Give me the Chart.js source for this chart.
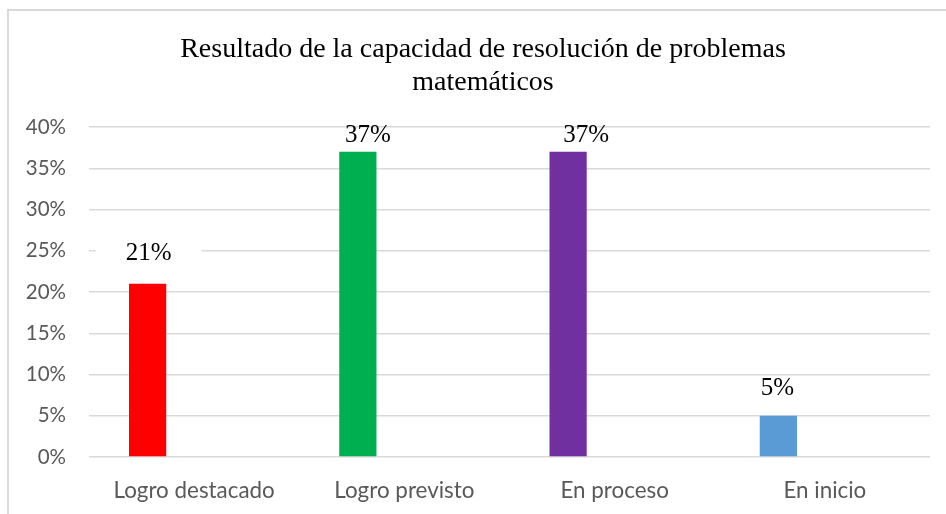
<!DOCTYPE html>
<html>
<head>
<meta charset="utf-8">
<script src="https://cdn.jsdelivr.net/npm/chart.js@4.4.0/dist/chart.umd.min.js"></script>
<style>
    html, body { margin: 0; padding: 0; background: #fff; }
    #wrap { width: 946px; height: 514px; }
</style>
</head>
<body>
<div id="wrap"><canvas id="resultado-chart" width="946" height="514"></canvas></div>
<script>
const categories = ['Logro destacado', 'Logro previsto', 'En proceso', 'En inicio'];
const values = [0.21, 0.37, 0.37, 0.05];
const spacer = [null, null, null, null];
const barColors = ['#FF0000', '#00B050', '#7030A0', '#5B9BD5'];
const titleLines = ['Resultado de la capacidad de resolución de problemas', 'matemáticos'];

// labels were nudged by hand in the original, keep the same look
const labelNudge = { dx: [1, 10, 18, -1], gap: [24, 10, 10, 21] };

const frame = {
    id: 'frame',
    beforeDraw(chart) {
        const ctx = chart.ctx;
        ctx.save();
        ctx.fillStyle = '#fff';
        ctx.fillRect(0, 0, chart.width, chart.height);
        ctx.strokeStyle = '#d9d9d9';
        ctx.lineWidth = 2;
        ctx.beginPath();
        ctx.moveTo(8, chart.height);
        ctx.lineTo(8, 10);
        ctx.lineTo(chart.width, 10);
        ctx.stroke();
        ctx.restore();
    },
    afterDraw(chart) {
        // title drawn by hand so it can sit off-centre like the original
        const ctx = chart.ctx;
        ctx.save();
        ctx.font = '28px "Liberation Serif"';
        ctx.fillStyle = '#000';
        ctx.textAlign = 'center';
        ctx.textBaseline = 'alphabetic';
        ctx.fillText(titleLines[0], 483, 57);
        ctx.fillText(titleLines[1], 483, 89.5);
        ctx.restore();
    }
};

const barLabels = {
    id: 'barLabels',
    afterDatasetsDraw(chart, args, opts) {
        const ctx = chart.ctx;
        const area = chart.chartArea;
        const meta = chart.getDatasetMeta(0);
        ctx.save();
        ctx.font = '25px "Liberation Serif"';
        ctx.textAlign = 'center';
        ctx.textBaseline = 'alphabetic';
        meta.data.forEach((bar, i) => {
            const txt = Math.round(values[i] * 100) + '%';
            const x = bar.x + opts.dx[i];
            const y = bar.y - opts.gap[i];
            const w = ctx.measureText(txt).width + 60;
            const top = Math.max(y - 18, area.top + 1.5);
            ctx.fillStyle = '#fff';
            ctx.fillRect(x - w / 2, top, w, y + 1 - top);
            ctx.fillStyle = '#000';
            ctx.fillText(txt, x, y);
        });
        ctx.restore();
    }
};

new Chart(document.getElementById('resultado-chart').getContext('2d'), {
    type: 'bar',
    data: {
        labels: categories,
        datasets: [
            { data: values, backgroundColor: barColors, categoryPercentage: 0.885, barPercentage: 0.4 },
            { data: spacer, backgroundColor: '#fff', categoryPercentage: 0.885, barPercentage: 0.4 }
        ]
    },
    options: {
        responsive: false,
        animation: false,
        layout: { padding: { left: 0, right: 16, top: 127, bottom: 0 } },
        plugins: {
            legend: { display: false },
            tooltip: { enabled: false },
            title: { display: false },
            barLabels: labelNudge
        },
        scales: {
            x: {
                grid: { display: false },
                border: { display: false },
                ticks: { color: '#595959', font: { family: 'Lato', size: 22.4 }, padding: 12 },
                afterFit: (scale) => { scale.height = 57; }
            },
            y: {
                min: 0, max: 0.4,
                grid: { color: '#d9d9d9', lineWidth: 1.5, drawTicks: false },
                border: { display: false },
                ticks: {
                    stepSize: 0.05,
                    padding: 23,
                    color: '#595959',
                    font: { family: 'Lato', size: 20.5 },
                    callback: (v) => Math.round(v * 100) + '%'
                },
                afterFit: (scale) => { scale.width = 89; }
            }
        }
    },
    plugins: [frame, barLabels]
});
</script>
</body>
</html>
